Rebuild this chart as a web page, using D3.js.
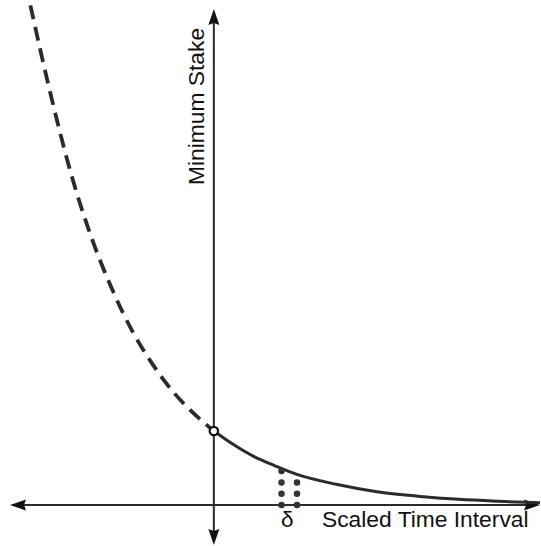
<!DOCTYPE html>
<html><head><meta charset="utf-8">
<script src="https://cdn.jsdelivr.net/npm/d3@7"></script>
<style>html,body{margin:0;padding:0;background:#fff;}svg{display:block;}</style>
</head><body>
<svg id="chart" width="541" height="546"></svg>
<script>
// Data
const dashedX = [-2.25, -2.0, -1.75, -1.5, -1.25, -1.0, -0.75, -0.5, -0.25, 0];
const dashedY = [6.75, 5.54, 4.47, 3.61, 2.92, 2.35, 1.90, 1.53, 1.24, 1.0];
const solidX = [0, 0.25, 0.5, 0.75, 1.0, 1.5, 2.0, 2.5, 3.0, 3.5, 4.0];
const solidY = [1.0, 0.81, 0.65, 0.53, 0.42, 0.28, 0.18, 0.12, 0.077, 0.05, 0.03];
const deltaX = [0.83, 1.02];
const deltaLabel = "δ";
const xLabel = "Scaled Time Interval";
const yLabel = "Minimum Stake";
const openPoint = [0, 1.0];

const svg = d3.select("#chart");
const x = d3.scaleLinear().domain([-2.5, 4.0]).range([10, 540]);
const y = d3.scaleLinear().domain([-0.54, 6.7]).range([545, 9]);
const ink = "#2b2b2b";
const font = "'Liberation Sans', Arial, Helvetica, sans-serif";

// axes
svg.append("line").attr("x1", x(-2.5) + 10).attr("x2", x(4.0) - 10)
  .attr("y1", y(0)).attr("y2", y(0)).attr("stroke", ink).attr("stroke-width", 2);
svg.append("line").attr("x1", x(0)).attr("x2", x(0))
  .attr("y1", y(6.7) + 10).attr("y2", y(-0.54) - 10).attr("stroke", ink).attr("stroke-width", 2);

function arrow(tx, ty, dir) {
  const L = 16, W = 5.5;
  let pts;
  if (dir === "left") pts = [[tx, ty], [tx + L, ty - W], [tx + L - 2, ty], [tx + L, ty + W]];
  if (dir === "right") pts = [[tx, ty], [tx - L, ty - W], [tx - L + 2, ty], [tx - L, ty + W]];
  if (dir === "up") pts = [[tx, ty], [tx - W, ty + L], [tx, ty + L - 2], [tx + W, ty + L]];
  if (dir === "down") pts = [[tx, ty], [tx - W, ty - L], [tx, ty - L + 2], [tx + W, ty - L]];
  svg.append("path").attr("d", d3.line()(pts) + "Z").attr("fill", "#111");
}
arrow(x(-2.5), y(0), "left");
arrow(x(4.0), y(0), "right");
arrow(x(0), y(6.7), "up");
arrow(x(0), y(-0.54), "down");

// curves
const line = d3.line().x(d => x(d[0])).y(d => y(d[1])).curve(d3.curveMonotoneX);
svg.append("path").datum(dashedX.map((v, i) => [v, dashedY[i]]))
  .attr("d", line).attr("fill", "none").attr("stroke", ink)
  .attr("stroke-width", 3.8).attr("stroke-dasharray", "14,8");
svg.append("path").datum(solidX.map((v, i) => [v, solidY[i]]))
  .attr("d", line).attr("fill", "none").attr("stroke", ink).attr("stroke-width", 3);

// delta dotted verticals
const interp = d3.scaleLinear().domain(solidX).range(solidY);
deltaX.forEach(dx => {
  svg.append("line").attr("x1", x(dx)).attr("x2", x(dx))
    .attr("y1", y(0)).attr("y2", y(interp(dx)) + 1)
    .attr("stroke", "#333").attr("stroke-width", 6.5)
    .attr("stroke-linecap", "round").attr("stroke-dasharray", "0,11.3");
});

// open point
svg.append("circle").attr("cx", x(openPoint[0])).attr("cy", y(openPoint[1])).attr("r", 4.2)
  .attr("fill", "#fff").attr("stroke", "#111").attr("stroke-width", 2.2);

// labels
svg.append("text").attr("x", (x(deltaX[0]) + x(deltaX[1])) / 2 - 2).attr("y", 527)
  .attr("text-anchor", "middle").attr("font-family", font).attr("font-size", 22.5)
  .attr("fill", "#111").text(deltaLabel);
svg.append("text").attr("x", 322).attr("y", 527)
  .attr("font-family", font).attr("font-size", 22.8).attr("fill", "#111").text(xLabel);
svg.append("text").attr("transform", "translate(204,185) rotate(-90)")
  .attr("font-family", font).attr("font-size", 22.8).attr("fill", "#111").text(yLabel);
</script>
</body></html>
